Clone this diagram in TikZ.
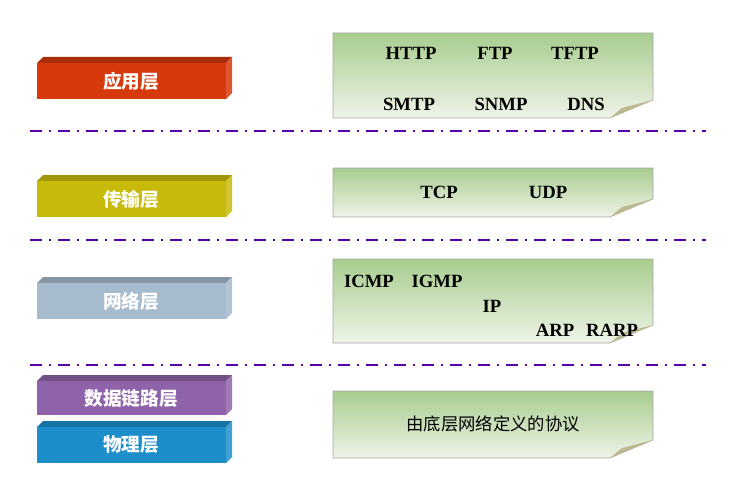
\documentclass[tikz,border=0pt]{standalone}
\usepackage{fontspec}
\setmainfont{Liberation Serif}
\newfontfamily\cjk{Noto Sans CJK SC}
\begin{document}
\begin{tikzpicture}[x=0.75pt,y=-0.75pt,
  proto/.style={font=\bfseries\fontsize{14}{16}\selectfont},
  lyr/.style={font=\cjk\bfseries\fontsize{14}{16}\selectfont,text=white},
  sep/.style={draw=violet!70!blue,line width=2.2pt,dash pattern=on 9pt off 5pt on 2pt off 5pt}]
\useasboundingbox (0,0) rectangle (752,478);
\definecolor{cR}{HTML}{D63A0C}
\definecolor{cY}{HTML}{C8BA0A}
\definecolor{cB}{HTML}{A6BBCD}
\definecolor{cP}{HTML}{8F63A9}
\definecolor{cC}{HTML}{1C8FCB}
\definecolor{gT}{HTML}{A8CC8E}
\definecolor{gB}{HTML}{EEF4E8}
% layer bars
\foreach \c/\y/\h/\t/\n in {cR/57/42/应用层/a, cY/175/42/传输层/b, cB/277/42/网络层/c, cP/375/40/数据链路层/d, cC/421/42/物理层/e}{
  \fill[\c!80!black] (37,\y+6) -- (43,\y) -- (232,\y) -- (226,\y+6) -- cycle;
  \fill[\c!85!white] (226,\y+6) -- (232,\y) -- (232,\y+\h-6) -- (226,\y+\h) -- cycle;
  \fill[\c] (37,\y+6) rectangle (226,\y+\h);
  \node[lyr] (\n) at (131,\y+3+\h/2) {\t};
}
% protocol boxes
\foreach \y/\yy/\n in {33/118/p1, 168/217/p2, 259/343/p3, 391/458/p4}{
  \shade[top color=gT,bottom color=gB,draw=gray!70] (333,\y) -- (653,\y) -- (653,\yy-18) -- (610,\yy) -- (333,\yy) -- cycle;
  \fill[gray!60!olive!60] (610,\yy) -- (653,\yy-18) -- (622,\yy-10) -- cycle;
  \coordinate (\n) at (333,\y);
}
\node[proto] (http) at (411,53) {HTTP};
\node[proto] (ftp) at (495,53) {FTP};
\node[proto] (tftp) at (575,53) {TFTP};
\node[proto] (smtp) at (409,104) {SMTP};
\node[proto] (snmp) at (501,104) {SNMP};
\node[proto] (dns) at (586,104) {DNS};
\node[proto] (tcp) at (439,192) {TCP};
\node[proto] (udp) at (548,192) {UDP};
\node[proto] (icmp) at (369,281) {ICMP};
\node[proto] (igmp) at (437,281) {IGMP};
\node[proto] (ip) at (492,306) {IP};
\node[proto] (arp) at (555,330) {ARP};
\node[proto] (rarp) at (612,330) {RARP};
\node[font=\cjk\fontsize{13}{15}\selectfont] (def) at (493,424) {由底层网络定义的协议};
% separators
\foreach \y in {131,240,365}{\draw[sep] (30,\y) -- (706,\y);}
\end{tikzpicture}
\end{document}
